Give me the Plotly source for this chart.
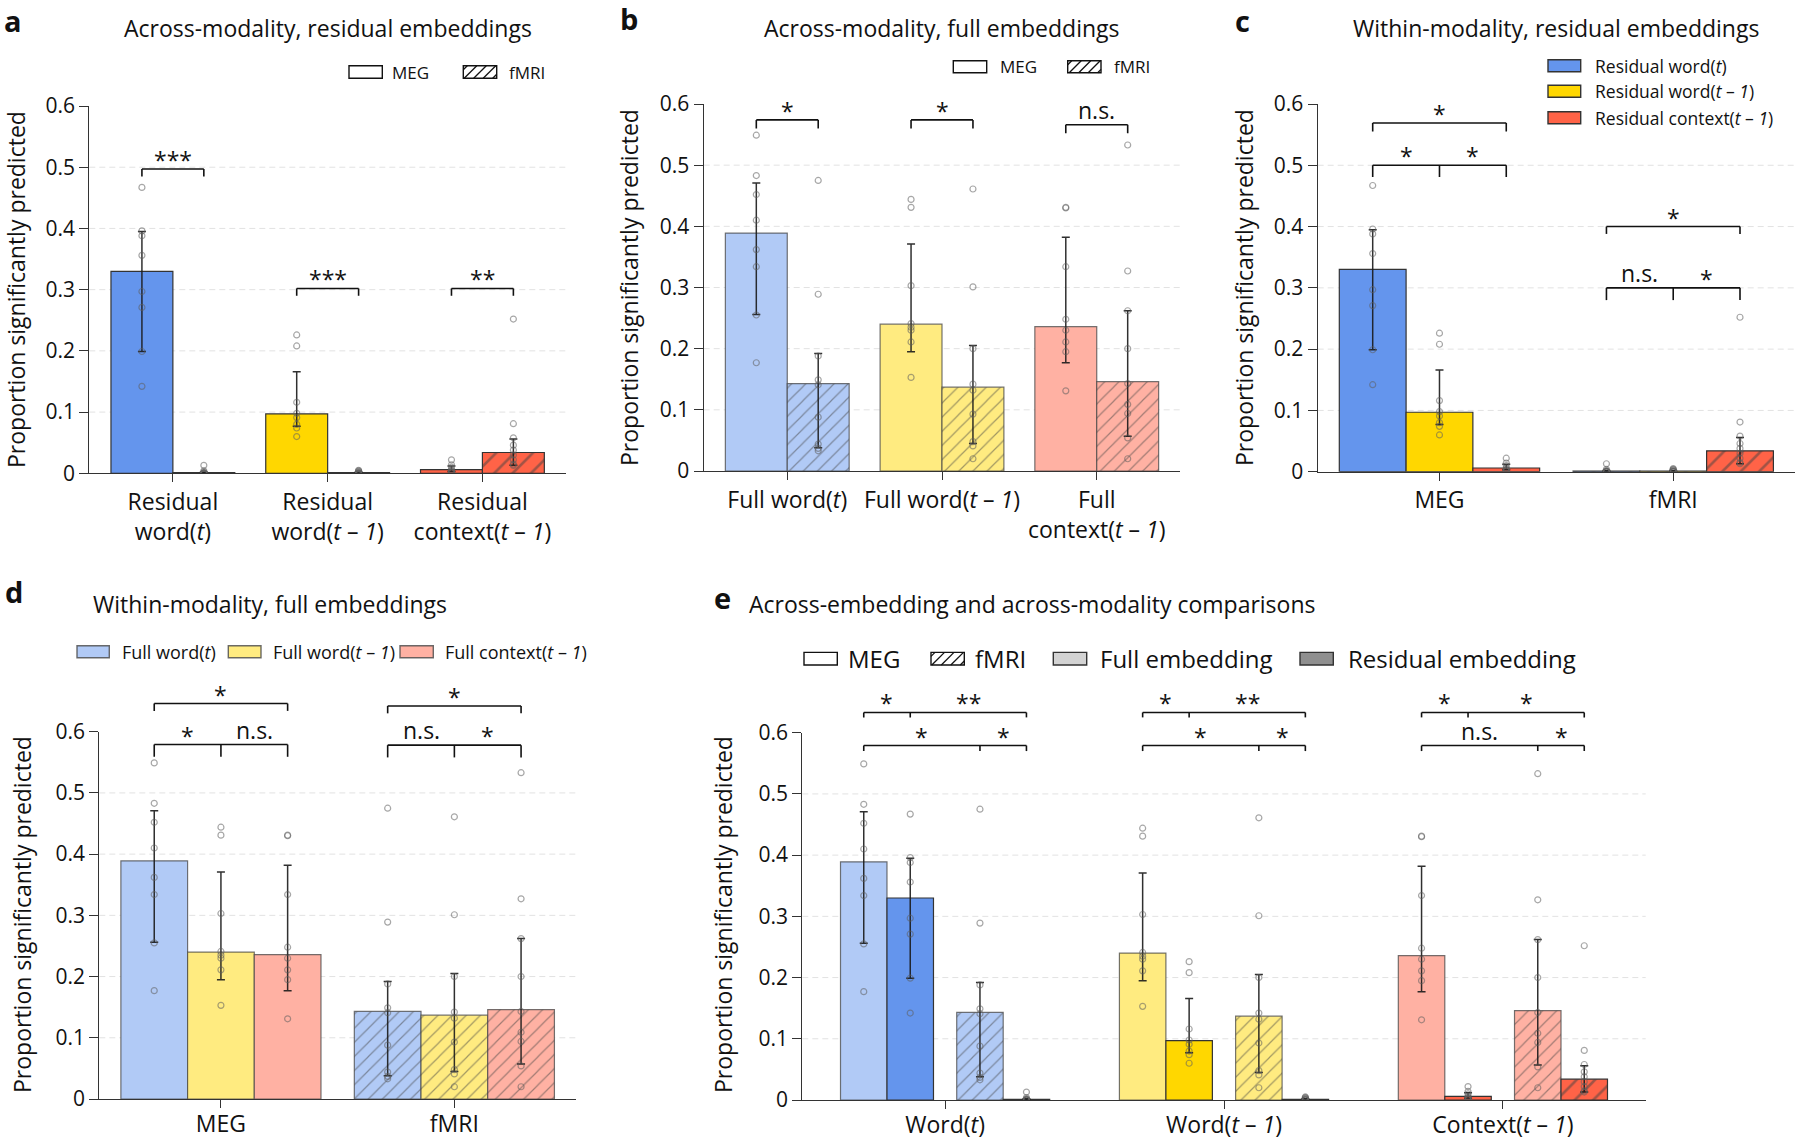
import plotly.graph_objects as go

W, H = 1800, 1142
FONT = "Open Sans"
INK = "#111111"

# ---------------- data ----------------
embeddings = ["word(t)", "word(t-1)", "context(t-1)"]
modalities = ["MEG", "fMRI"]

res_meg_mean = [0.330, 0.097, 0.006]
res_meg_lo = [0.199, 0.077, 0.003]
res_meg_hi = [0.395, 0.166, 0.012]
res_fmri_mean = [0.001, 0.001, 0.034]
res_fmri_lo = [0.000, 0.000, 0.013]
res_fmri_hi = [0.002, 0.002, 0.056]

full_meg_mean = [0.389, 0.240, 0.236]
full_meg_lo = [0.256, 0.195, 0.177]
full_meg_hi = [0.471, 0.371, 0.382]
full_fmri_mean = [0.143, 0.137, 0.146]
full_fmri_lo = [0.038, 0.045, 0.057]
full_fmri_hi = [0.192, 0.205, 0.262]

res_meg_pts = [
    [0.467, 0.396, 0.388, 0.356, 0.297, 0.271, 0.199, 0.142],
    [0.226, 0.208, 0.116, 0.098, 0.091, 0.080, 0.074, 0.060],
    [0.022, 0.014, 0.010, 0.006, 0.004, 0.003, 0.002, 0.001],
]
res_fmri_pts = [
    [0.013, 0.004, 0.002, 0.001, 0.000, 0.000, 0.000, 0.000, 0.000],
    [0.005, 0.004, 0.003, 0.002, 0.001, 0.000, 0.000, 0.000, 0.000],
    [0.252, 0.081, 0.058, 0.046, 0.038, 0.030, 0.022, 0.015, 0.013],
]
full_meg_pts = [
    [0.549, 0.483, 0.452, 0.410, 0.362, 0.334, 0.255, 0.177],
    [0.444, 0.431, 0.303, 0.241, 0.235, 0.230, 0.211, 0.153],
    [0.431, 0.430, 0.334, 0.248, 0.230, 0.211, 0.195, 0.131],
]
full_fmri_pts = [
    [0.475, 0.289, 0.188, 0.149, 0.141, 0.088, 0.044, 0.037, 0.033],
    [0.461, 0.301, 0.200, 0.142, 0.132, 0.093, 0.048, 0.041, 0.020],
    [0.533, 0.327, 0.262, 0.200, 0.143, 0.109, 0.094, 0.054, 0.020],
]

# significance labels
sig_a = ["***", "***", "**"]
sig_b = ["*", "*", "n.s."]
sig_c = [["*", "*", "*"], ["*", "n.s.", "*"]]          # per modality: [1-3, 1-2, 2-3]
sig_d = [["*", "*", "n.s."], ["*", "n.s.", "*"]]
sig_e = [["*", "**", "*", "*"], ["*", "**", "*", "*"], ["*", "*", "n.s.", "*"]]  # [fM-rM, rM-rF, fM-fF, fF-rF]

# tick / legend texts
T1 = "(<i>t</i> – <i>1</i>)"
labels_a = ["Residual<br>word(<i>t</i>)", "Residual<br>word" + T1, "Residual<br>context" + T1]
labels_b = ["Full word(<i>t</i>)", "Full word" + T1, "Full<br>context" + T1]
labels_e = ["Word(<i>t</i>)", "Word" + T1, "Context" + T1]
legend_res = ["Residual word(<i>t</i>)", "Residual word" + T1, "Residual context" + T1]
legend_full = ["Full word(<i>t</i>)", "Full word" + T1, "Full context" + T1]
y_ticks = [0, 0.1, 0.2, 0.3, 0.4, 0.5, 0.6]
y_ticktext = ["0", "0.1", "0.2", "0.3", "0.4", "0.5", "0.6"]
titles = {
    "a": "Across-modality, residual embeddings",
    "b": "Across-modality, full embeddings",
    "c": "Within-modality, residual embeddings",
    "d": "Within-modality, full embeddings",
    "e": "Across-embedding and across-modality comparisons",
}
YTITLE = "Proportion significantly predicted"

# ---------------- styles ----------------
res_colors = ["#6495ED", "#FFD700", "#FF6347"]
full_colors = ["#B1CAF6", "#FFEB80", "#FFB1A3"]
EDGE_RES = "#333333"
EDGE_FULL = "rgba(70,70,70,0.75)"
ERR = "rgba(25,25,25,0.9)"
PT = "rgba(95,95,95,0.55)"

# panel geometry in pixels: x-domain, y pixel of value 0 and 0.6, x range, label standoff
panels = {
    "a": dict(n=1, xd=(89.3, 566.0), y0=473.3, y6=106.0, xr=(-0.54, 2.54), so=0),
    "b": dict(n=2, xd=(703.7, 1180.3), y0=471.0, y6=104.0, xr=(-0.54, 2.54), so=0),
    "c": dict(n=3, xd=(1317.7, 1795.0), y0=471.7, y6=104.0, xr=(-0.521, 1.521), so=0),
    "d": dict(n=4, xd=(99.3, 576.0), y0=1099.0, y6=731.7, xr=(-0.521, 1.521), so=-4),
    "e": dict(n=5, xd=(802.3, 1645.7), y0=1100.0, y6=732.7, xr=(-0.512, 2.512), so=-4),
}


def axn(p, l):
    return l if p["n"] == 1 else f"{l}{p['n']}"


def px(x):
    return x / W


def py(y):
    return 1 - y / H


def yp(p, v):
    d0, d1 = py(p["y0"]), py(p["y6"])
    return d0 + v / 0.6 * (d1 - d0)


fig = go.Figure()
shapes = []
annots = []


def add_bars(p, xs, means, lo, hi, colors, hatch, edge, pts, width):
    shp = ["/" if h else "" for h in hatch]
    kind = [h for h in hatch if h]
    kind = kind[0] if kind else "res"
    if kind == "res":
        pat = dict(shape=shp, fgcolor="#111111", size=13, solidity=0.2, fillmode="overlay")
    else:
        pat = dict(shape=shp, fgcolor="rgba(70,70,70,0.8)", size=10, solidity=0.12, fillmode="overlay")
    fig.add_trace(go.Bar(
        x=xs, y=means, width=width, xaxis=axn(p, "x"), yaxis=axn(p, "y"),
        marker=dict(color=colors, line=dict(color=edge, width=1.2), pattern=pat),
        error_y=dict(type="data", symmetric=False,
                     array=[h - m for h, m in zip(hi, means)],
                     arrayminus=[m - l for m, l in zip(means, lo)],
                     color=ERR, thickness=1.5, width=4),
        showlegend=False, hoverinfo="skip"))
    xx, yy = [], []
    for x, pl in zip(xs, pts):
        xx += [x] * len(pl)
        yy += pl
    fig.add_trace(go.Scatter(
        x=xx, y=yy, mode="markers", xaxis=axn(p, "x"), yaxis=axn(p, "y"),
        marker=dict(symbol="circle-open", size=6, color=PT, line=dict(width=1.2)),
        showlegend=False, hoverinfo="skip"))


def bracket(p, xl, xr_, level, leg, label, mids=()):
    ax = axn(p, "x")
    y_top = yp(p, level)
    y_leg = yp(p, level - leg)
    for x in (xl, xr_) + tuple(mids):
        shapes.append(dict(type="line", xref=ax, yref="paper", x0=x, x1=x, y0=y_leg, y1=y_top,
                           line=dict(color=INK, width=1.6), layer="above"))
    shapes.append(dict(type="line", xref=ax, yref="paper", x0=xl, x1=xr_, y0=y_top, y1=y_top,
                       line=dict(color=INK, width=1.6), layer="above"))


def sig_text(p, x, level, label):
    shift = 9 if label.startswith("*") else 15
    annots.append(dict(x=x, y=yp(p, level), xref=axn(p, "x"), yref="paper", text=label,
                       showarrow=False, xanchor="center", yanchor="middle", yshift=shift,
                       font=dict(family=FONT, size=23, color=INK)))


def setup_axes(key, tickvals, ticktext):
    p = panels[key]
    xa = dict(domain=[px(p["xd"][0]), px(p["xd"][1])], range=list(p["xr"]), anchor=axn(p, "y"),
              showgrid=False, zeroline=False, showline=True, linecolor="#333", linewidth=1.3,
              ticks="outside", ticklen=8, tickwidth=1.3, tickcolor="#333", automargin=False,
              tickmode="array", tickvals=tickvals, ticktext=ticktext, ticklabelstandoff=p["so"],
              tickfont=dict(family=FONT, size=23, color=INK), fixedrange=True)
    ya = dict(domain=[py(p["y0"]), py(p["y6"])], range=[0, 0.6], anchor=axn(p, "x"),
              showgrid=False, zeroline=False, showline=True, linecolor="#333", linewidth=1.3,
              ticks="outside", ticklen=9, tickwidth=1.3, tickcolor="#333", automargin=False,
              tickmode="array", tickvals=y_ticks, ticktext=y_ticktext,
              tickfont=dict(family=FONT, size=21, color=INK), fixedrange=True)
    fig.update_layout(**{("xaxis" if p["n"] == 1 else f"xaxis{p['n']}"): xa,
                         ("yaxis" if p["n"] == 1 else f"yaxis{p['n']}"): ya})
    for g in y_ticks[1:-1]:
        shapes.append(dict(type="line", xref=axn(p, "x") + " domain", yref=axn(p, "y"),
                           x0=0, x1=1, y0=g, y1=g, layer="below",
                           line=dict(color="#e2e2e2", width=1, dash="6px,4px")))


# ---------------- panel a ----------------
p = panels["a"]
setup_axes("a", [0, 1, 2], labels_a)
wa = 0.4
add_bars(p, [i - 0.2 for i in range(3)], res_meg_mean, res_meg_lo, res_meg_hi, res_colors,
         [None] * 3, EDGE_RES, res_meg_pts, wa)
add_bars(p, [i + 0.2 for i in range(3)], res_fmri_mean, res_fmri_lo, res_fmri_hi, res_colors,
         ["res"] * 3, EDGE_RES, res_fmri_pts, wa)
lev_a = [(0.497, 0.012), (0.302, 0.012), (0.302, 0.012)]
for i, (lv, lg) in enumerate(lev_a):
    bracket(p, i - 0.2, i + 0.2, lv, lg, sig_a[i])
    sig_text(p, i, lv, sig_a[i])

# ---------------- panel b ----------------
p = panels["b"]
setup_axes("b", [0, 1, 2], labels_b)
add_bars(p, [i - 0.2 for i in range(3)], full_meg_mean, full_meg_lo, full_meg_hi, full_colors,
         [None] * 3, EDGE_FULL, full_meg_pts, wa)
add_bars(p, [i + 0.2 for i in range(3)], full_fmri_mean, full_fmri_lo, full_fmri_hi, full_colors,
         ["full"] * 3, EDGE_FULL, full_fmri_pts, wa)
lev_b = [(0.574, 0.014), (0.574, 0.014), (0.566, 0.014)]
for i, (lv, lg) in enumerate(lev_b):
    bracket(p, i - 0.2, i + 0.2, lv, lg, sig_b[i])
    sig_text(p, i, lv, sig_b[i])

# ---------------- panels c and d ----------------
wc = 2 / 7
offs_c = [-wc, 0, wc]
for key, means, los, his, mf, lf, hf, pts_m, pts_f, cols, kind, edge, sig, lev in [
    ("c", res_meg_mean, res_meg_lo, res_meg_hi, res_fmri_mean, res_fmri_lo, res_fmri_hi,
     res_meg_pts, res_fmri_pts, res_colors, "res", EDGE_RES, sig_c,
     [[(0.569, 0.014), (0.500, 0.019)], [(0.400, 0.012), (0.300, 0.020)]]),
    ("d", full_meg_mean, full_meg_lo, full_meg_hi, full_fmri_mean, full_fmri_lo, full_fmri_hi,
     full_meg_pts, full_fmri_pts, full_colors, "full", EDGE_FULL, sig_d,
     [[(0.646, 0.012), (0.579, 0.020)], [(0.642, 0.012), (0.578, 0.020)]]),
]:
    p = panels[key]
    setup_axes(key, [0, 1], modalities)
    for k in range(3):
        add_bars(p, [0 + offs_c[k], 1 + offs_c[k]], [means[k], mf[k]], [los[k], lf[k]],
                 [his[k], hf[k]], [cols[k]] * 2, [None, kind], edge,
                 [pts_m[k], pts_f[k]], wc)
    for m in range(2):
        (lt, gt), (ll, gl) = lev[m]
        bracket(p, m + offs_c[0], m + offs_c[2], lt, gt, sig[m][0])
        sig_text(p, m, lt, sig[m][0])
        bracket(p, m + offs_c[0], m + offs_c[2], ll, gl, "", mids=(m + offs_c[1],))
        sig_text(p, m + (offs_c[0] + offs_c[1]) / 2, ll, sig[m][1])
        sig_text(p, m + (offs_c[1] + offs_c[2]) / 2, ll, sig[m][2])

# ---------------- panel e ----------------
p = panels["e"]
setup_axes("e", [0, 1, 2], labels_e)
we = 1 / 6
offs_e = [-1.75 * we, -0.75 * we, 0.75 * we, 1.75 * we]
series_e = [
    (full_meg_mean, full_meg_lo, full_meg_hi, full_meg_pts, full_colors, None, EDGE_FULL),
    (res_meg_mean, res_meg_lo, res_meg_hi, res_meg_pts, res_colors, None, EDGE_RES),
    (full_fmri_mean, full_fmri_lo, full_fmri_hi, full_fmri_pts, full_colors, "full", EDGE_FULL),
    (res_fmri_mean, res_fmri_lo, res_fmri_hi, res_fmri_pts, res_colors, "res", EDGE_RES),
]
for s, (mn, lo, hi, pts, cols, kind, edge) in enumerate(series_e):
    add_bars(p, [i + offs_e[s] for i in range(3)], mn, lo, hi, cols, [kind] * 3, edge, pts, we)
lev_e_top, leg_e_top = 0.633, 0.008
lev_e_low, leg_e_low = 0.579, 0.009
for i in range(3):
    x0, x1, x2, x3 = [i + o for o in offs_e]
    bracket(p, x0, x3, lev_e_top, leg_e_top, "", mids=(x1,))
    sig_text(p, (x0 + x1) / 2, lev_e_top, sig_e[i][0])
    sig_text(p, (x1 + x3) / 2, lev_e_top, sig_e[i][1])
    bracket(p, x0, x3, lev_e_low, leg_e_low, "", mids=(x2,))
    sig_text(p, (x0 + x2) / 2, lev_e_low, sig_e[i][2])
    sig_text(p, (x2 + x3) / 2, lev_e_low, sig_e[i][3])


# ---------------- titles, letters, axis titles ----------------
def text(x, y, t, size, xanchor="center", angle=0, bold=False):
    annots.append(dict(x=px(x), y=py(y), xref="paper", yref="paper", text=(f"<b>{t}</b>" if bold else t),
                       showarrow=False, xanchor=xanchor, yanchor="middle", textangle=angle,
                       font=dict(family=FONT, size=size, color=INK)))


for key, (cx, cy) in {"a": (328, 28), "b": (942, 28), "c": (1556, 28), "d": (270, 604), "e": (1032, 604)}.items():
    text(cx, cy, titles[key], 23)
for key, (cx, cy) in {"a": (13, 21), "b": (629, 19), "c": (1242, 20), "d": (14, 592), "e": (722, 597)}.items():
    text(cx, cy, key, 29, bold=True)
for (cx, cy) in [(16, 290), (629, 288), (1244, 288), (22, 915), (723, 915)]:
    text(cx, cy, YTITLE, 23, angle=-90)


# ---------------- legends (drawn swatches) ----------------
def swatch(x0, x1, yc, h, fill, line_color, hatch=False, lw=1.4):
    ytop, ybot = yc - h / 2, yc + h / 2
    shapes.append(dict(type="rect", xref="paper", yref="paper", x0=px(x0), x1=px(x1),
                       y0=py(ybot), y1=py(ytop), fillcolor=fill,
                       line=dict(color=line_color, width=lw), layer="above"))
    if hatch:
        s = 9.5
        xb = x0 - h + 4
        while xb < x1:
            t0 = max(0.0, x0 - xb)
            t1 = min(h, x1 - xb)
            if t1 > t0:
                shapes.append(dict(type="line", xref="paper", yref="paper",
                                   x0=px(xb + t0), y0=py(ybot - t0), x1=px(xb + t1), y1=py(ybot - t1),
                                   line=dict(color=INK, width=1.3), layer="above"))
            xb += s


# a
swatch(349, 382.3, 72, 12.6, "white", INK)
text(390, 72, "MEG", 17, xanchor="left")
swatch(463.3, 496.7, 72, 12.6, "white", INK, hatch=True)
text(507, 72, "fMRI", 17, xanchor="left")
# b
swatch(953.3, 986.7, 66.7, 12, "white", INK)
text(997.7, 66.7, "MEG", 17, xanchor="left")
swatch(1067.7, 1101, 66.7, 12, "white", INK, hatch=True)
text(1111.7, 66.7, "fMRI", 17, xanchor="left")
# c
for k, yc in enumerate([65.7, 91.3, 117.7]):
    swatch(1548, 1580.7, yc, 12, res_colors[k], "#333")
    text(1592.7, yc, legend_res[k], 17.5, xanchor="left")
# d
for k, (x0, x1, xt) in enumerate([(77, 109.3, 120), (228.3, 261, 271), (400, 433.3, 443.3)]):
    swatch(x0, x1, 651.7, 12, full_colors[k], "rgba(70,70,70,0.8)")
    text(xt, 651.7, legend_full[k], 18, xanchor="left")
# e
swatch(804, 837.3, 658.7, 12.7, "white", INK)
text(846, 658.7, "MEG", 24, xanchor="left")
swatch(931, 964.3, 658.7, 12.7, "white", INK, hatch=True)
text(973.3, 658.7, "fMRI", 24, xanchor="left")
swatch(1053.3, 1086.7, 658.7, 12.7, "#d3d3d3", "#333")
text(1098.3, 658.7, "Full embedding", 24, xanchor="left")
swatch(1300, 1333.3, 658.7, 12.7, "#8f8f8f", "#333")
text(1345.7, 658.7, "Residual embedding", 24, xanchor="left")

fig.update_layout(
    template="none",
    width=W, height=H, margin=dict(l=0, r=0, t=0, b=0, pad=0, autoexpand=False),
    paper_bgcolor="white", plot_bgcolor="white",
    barmode="overlay", showlegend=False,
    font=dict(family=FONT, color=INK),
    shapes=shapes, annotations=annots,
)

fig.write_html("out.html", config={"displayModeBar": False},
               post_script="document.body.style.margin='0';")
